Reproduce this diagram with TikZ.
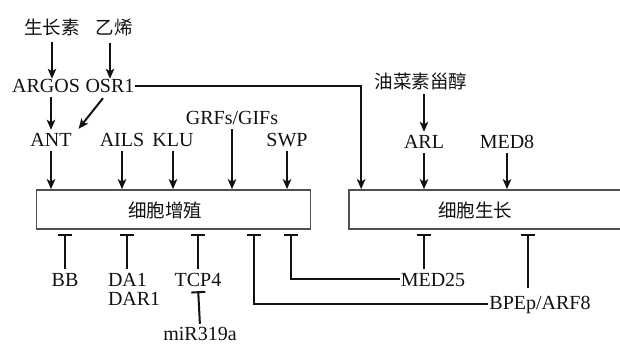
\documentclass[tikz,border=0pt]{standalone}
\usepackage{fontspec}
\setmainfont{Liberation Serif}
\newfontfamily\cjk{Noto Sans CJK SC}
\usetikzlibrary{arrows.meta, calc}
\definecolor{cline}{HTML}{111111}
\definecolor{cbox}{HTML}{505050}
\tikzset{
  every picture/.style={line width=2pt, x=1pt, y=-1pt},
  gene/.style={font=\fontsize{20}{22}\selectfont, text=cline, inner sep=0pt, anchor=base},
  hormone/.style={font=\cjk\fontsize{18.5}{22}\selectfont, text=cline, inner sep=0pt},
  stage/.style={draw=cbox, line width=1.7pt, minimum height=39pt, inner sep=0pt},
  act/.style={-{Stealth[length=10pt, width=8.5pt, inset=2.5pt]}, draw=cline},
  inh/.style={-{Bar[width=14pt]}, draw=cline, shorten >=4pt},
}
\begin{document}
\begin{tikzpicture}
  \useasboundingbox (0,0) rectangle (620,344);
  % the two processes
  \node[stage, minimum width=274pt] (prolif) at (173.5,209.5) {};
  \node[stage, minimum width=277pt] (growth) at (487.5,209.5) {};
  \node[hormone] (prolifT) at (165,210) {细胞增殖};
  \node[hormone] (growthT) at (475,210) {细胞生长};
  % upstream
  \node[hormone] (auxin) at (52,27) {生长素};
  \node[hormone] (eth) at (114,27) {乙烯};
  \node[gene] (argos) at (46,93) {ARGOS};
  \node[gene] (osr) at (110,93) {OSR1};
  \node[gene] (ant) at (51,147) {ANT};
  \node[gene] (ails) at (122,147) {AILS};
  \node[gene] (klu) at (173,147) {KLU};
  \node[gene] (grf) at (232,125) {GRFs/GIFs};
  \node[gene] (swp) at (287,147) {SWP};
  \node[hormone] (bras) at (421,81) {油菜素甾醇};
  \node[gene] (arl) at (424,149) {ARL};
  \node[gene] (med8) at (507,149) {MED8};
  % downstream
  \node[gene] (bb) at (65,286) {BB};
  \node[gene, anchor=base west] (da1) at (107,286) {DA1};
  \node[gene, anchor=base west] (dar1) at (107,305) {DAR1};
  \node[gene] (tcp) at (198,286) {TCP4};
  \node[gene] (mir) at (200,340) {miR319a};
  \node[gene] (med25) at (433,286) {MED25};
  \node[gene] (bpep) at (540,309) {BPEp/ARF8};
  \coordinate (da1top) at ($(da1.north west)+(20,0)$);
  \coordinate (med25top) at ($(med25.north west)+(24,0)$);
  \coordinate (bpeptop) at ($(bpep.north west)+(40,0)$);
  \coordinate (osrend) at ($(growth.north west)+(13,0)$);
  \coordinate (med25end) at ($(prolif.south east)+(-20,0)$);
  \coordinate (bpepend) at ($(prolif.south east)+(-57,0)$);
  % promotion
  \draw[act, shorten <=6pt] (auxin.south) -- (auxin.south |- argos.north);
  \draw[act, shorten <=6pt] (eth.south -| osr.north) -- (osr.north);
  \draw[act, shorten <=3pt, shorten >=3pt] (argos.south -| ant.north) -- (ant.north);
  \draw[act] ($(osr.south)+(-7,4)$) -- ($(ant.north east)+(6,-4)$);
  \draw[act] (osr.east) -| (osrend);
  \foreach \g in {ant, ails, klu, grf, swp}
    \draw[act, shorten <=3pt] (\g.south) -- (\g.south |- prolif.north);
  \draw[act, shorten <=3pt, shorten >=3pt] (bras.south -| arl.north) -- (arl.north);
  \foreach \g in {arl, med8}
    \draw[act, shorten <=3pt] (\g.south) -- (\g.south |- growth.north);
  % inhibition
  \draw[inh, shorten <=3pt] (bb.north) -- (bb.north |- prolif.south);
  \draw[inh, shorten <=3pt] (da1top) -- (da1top |- prolif.south);
  \draw[inh, shorten <=3pt] (tcp.north) -- (tcp.north |- prolif.south);
  \draw[inh, shorten <=2pt] (mir.north) -- (tcp.south);
  \draw[inh] (med25.west) -| (med25end);
  \draw[inh] (bpep.west) -| (bpepend);
  \draw[inh, shorten <=3pt] (med25top) -- (med25top |- growth.south);
  \draw[inh, shorten <=7pt] (bpeptop) -- (bpeptop |- growth.south);
\end{tikzpicture}
\end{document}
